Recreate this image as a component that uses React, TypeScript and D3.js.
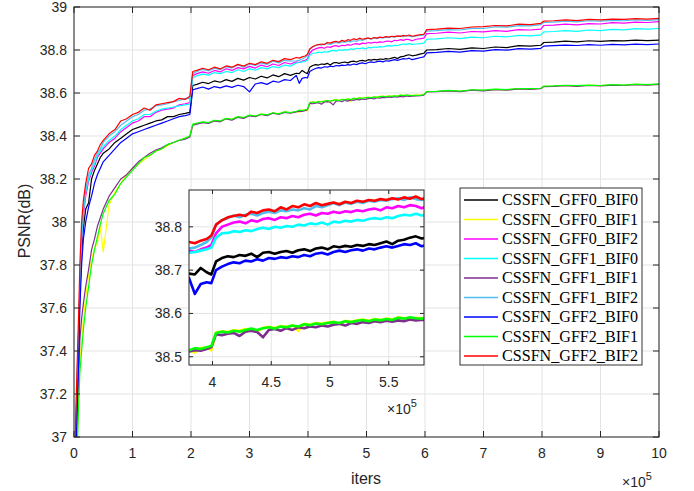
import React from "react";
import * as d3 from "d3";

// iterations (x 1e5)
const iters = [
  0.01, 0.03, 0.05, 0.08, 0.1, 0.13, 0.16, 0.2, 0.25, 0.3, 0.35, 0.4, 0.45, 0.5,
  0.6, 0.7, 0.8, 0.9, 1.0, 1.1, 1.2, 1.3, 1.4, 1.5, 1.6, 1.7, 1.8, 1.9,
  1.98, 2.03,
  2.1, 2.2, 2.3, 2.4, 2.5, 2.6, 2.7, 2.8, 2.9, 3.0, 3.1, 3.2, 3.3, 3.4, 3.5, 3.6, 3.7, 3.8,
  3.85, 3.9, 3.95, 3.99,
  4.03, 4.08, 4.13, 4.18, 4.23, 4.28, 4.33, 4.38, 4.43, 4.48, 4.53, 4.58,
  4.63, 4.68, 4.73, 4.78, 4.83, 4.88, 4.93, 4.98, 5.03, 5.08, 5.13, 5.18,
  5.23, 5.28, 5.33, 5.38, 5.43, 5.48, 5.53, 5.58, 5.63, 5.68, 5.73, 5.78,
  5.85, 5.93, 5.98, 6.03,
  6.2, 6.4, 6.6, 6.8, 7.0, 7.2, 7.4, 7.6, 7.8,
  7.98, 8.03,
  8.2, 8.4, 8.6, 8.8, 9.0, 9.2, 9.4, 9.6, 9.8, 10.0,
];

const gff0Bif0 = [
  36.6, 36.95, 37.2, 37.45, 37.65, 37.85, 37.97, 38.06, 38.09, 38.2, 38.24, 38.27, 38.3, 38.32,
  38.34, 38.37, 38.39, 38.41, 38.43, 38.44, 38.45, 38.46, 38.47, 38.475, 38.49, 38.49, 38.5, 38.505,
  38.51, 38.635,
  38.64, 38.65, 38.644, 38.656, 38.65, 38.662, 38.654, 38.668, 38.66, 38.672, 38.665, 38.678, 38.67, 38.684, 38.676, 38.69, 38.682, 38.692,
  38.69, 38.705, 38.695, 38.69,
  38.72, 38.728, 38.732, 38.73, 38.735, 38.733, 38.738, 38.73, 38.74, 38.742, 38.738, 38.742,
  38.744, 38.74, 38.746, 38.748, 38.744, 38.75, 38.752, 38.748, 38.755, 38.753, 38.756, 38.754,
  38.758, 38.756, 38.76, 38.758, 38.762, 38.766, 38.76, 38.768, 38.77, 38.775, 38.778, 38.773,
  38.776, 38.782, 38.785, 38.8,
  38.802, 38.807, 38.803, 38.81, 38.807, 38.814, 38.811, 38.82, 38.818,
  38.822, 38.835,
  38.837, 38.841, 38.838, 38.843, 38.84, 38.844, 38.842, 38.846, 38.844, 38.846,
];

const gff0Bif1 = [
  36.35, 36.7, 36.95, 37.2, 37.35, 37.45, 37.55, 37.65, 37.75, 37.82, 37.88, 37.9, 37.98, 37.86,
  38.08, 38.14, 38.18, 38.22, 38.25, 38.27, 38.29, 38.31, 38.33, 38.34, 38.355, 38.37, 38.38, 38.39,
  38.398, 38.452,
  38.458, 38.465, 38.46, 38.472, 38.468, 38.481, 38.476, 38.489, 38.484, 38.496, 38.491, 38.503, 38.497, 38.508, 38.503, 38.513, 38.508, 38.514,
  38.51, 38.52, 38.521, 38.515,
  38.556, 38.559, 38.557, 38.561, 38.56, 38.564, 38.563, 38.558, 38.567, 38.569, 38.566, 38.571,
  38.569, 38.573, 38.56, 38.576, 38.574, 38.578, 38.576, 38.579, 38.581, 38.575, 38.583, 38.581,
  38.584, 38.586, 38.583, 38.587, 38.585, 38.588, 38.586, 38.591, 38.589, 38.585, 38.59, 38.589,
  38.59, 38.591, 38.593, 38.606,
  38.607, 38.611, 38.608, 38.614, 38.612, 38.617, 38.615, 38.62, 38.619,
  38.621, 38.631,
  38.632, 38.635, 38.633, 38.636, 38.634, 38.638, 38.636, 38.64, 38.638, 38.641,
];

const gff0Bif2 = [
  36.7, 37.0, 37.2, 37.45, 37.68, 37.9, 38.03, 38.12, 38.19, 38.23, 38.26, 38.3, 38.32, 38.34,
  38.37, 38.39, 38.42, 38.44, 38.46, 38.47, 38.49, 38.49, 38.51, 38.52, 38.525, 38.53, 38.545, 38.55,
  38.555, 38.68,
  38.69, 38.698, 38.692, 38.705, 38.698, 38.713, 38.705, 38.718, 38.712, 38.724, 38.716, 38.73, 38.722, 38.735, 38.728, 38.742, 38.735, 38.745,
  38.742, 38.748, 38.752, 38.758,
  38.785, 38.8, 38.805, 38.81, 38.812, 38.808, 38.815, 38.812, 38.818, 38.82, 38.816, 38.822,
  38.82, 38.825, 38.822, 38.828, 38.83, 38.826, 38.832, 38.83, 38.835, 38.832, 38.836, 38.834,
  38.838, 38.836, 38.84, 38.842, 38.838, 38.845, 38.843, 38.848, 38.845, 38.85, 38.848, 38.843,
  38.85, 38.853, 38.855, 38.876,
  38.878, 38.883, 38.879, 38.886, 38.884, 38.89, 38.887, 38.895, 38.893,
  38.897, 38.914,
  38.916, 38.92, 38.917, 38.923, 38.921, 38.927, 38.925, 38.93, 38.928, 38.932,
];

const gff1Bif0 = [
  36.7, 37.05, 37.25, 37.5, 37.7, 37.92, 38.05, 38.14, 38.2, 38.24, 38.27, 38.31, 38.33, 38.35,
  38.38, 38.4, 38.43, 38.45, 38.47, 38.48, 38.5, 38.5, 38.515, 38.525, 38.53, 38.535, 38.54, 38.545,
  38.548, 38.67,
  38.68, 38.688, 38.683, 38.695, 38.69, 38.7, 38.695, 38.708, 38.7, 38.713, 38.706, 38.718, 38.712, 38.723, 38.718, 38.73, 38.725, 38.74,
  38.742, 38.745, 38.748, 38.752,
  38.775, 38.785, 38.786, 38.79, 38.788, 38.792, 38.79, 38.795, 38.798, 38.795, 38.8, 38.798,
  38.802, 38.8, 38.805, 38.803, 38.808, 38.806, 38.81, 38.805, 38.812, 38.81, 38.814, 38.812,
  38.816, 38.814, 38.818, 38.82, 38.818, 38.822, 38.82, 38.825, 38.828, 38.826, 38.83, 38.826,
  38.828, 38.83, 38.832, 38.85,
  38.852, 38.857, 38.853, 38.86, 38.857, 38.864, 38.861, 38.868, 38.866,
  38.87, 38.884,
  38.886, 38.89, 38.887, 38.893, 38.89, 38.896, 38.894, 38.899, 38.897, 38.9,
];

const gff1Bif1 = [
  36.4, 36.8, 37.05, 37.3, 37.45, 37.55, 37.62, 37.7, 37.78, 37.87, 37.92, 37.98, 38.02, 38.06,
  38.12, 38.16, 38.2, 38.22, 38.25, 38.28, 38.3, 38.32, 38.335, 38.345, 38.36, 38.37, 38.38, 38.385,
  38.395, 38.45,
  38.455, 38.462, 38.458, 38.47, 38.466, 38.48, 38.474, 38.487, 38.482, 38.494, 38.49, 38.5, 38.495, 38.506, 38.5, 38.51, 38.506, 38.512,
  38.515, 38.514, 38.518, 38.522,
  38.552, 38.55, 38.553, 38.555, 38.548, 38.558, 38.56, 38.557, 38.545, 38.562, 38.564, 38.56,
  38.566, 38.562, 38.568, 38.566, 38.57, 38.568, 38.572, 38.57, 38.574, 38.576, 38.572, 38.578,
  38.576, 38.58, 38.578, 38.582, 38.58, 38.583, 38.581, 38.584, 38.582, 38.586, 38.584, 38.585,
  38.586, 38.588, 38.59, 38.605,
  38.606, 38.61, 38.606, 38.613, 38.61, 38.616, 38.613, 38.619, 38.617,
  38.62, 38.63,
  38.631, 38.634, 38.631, 38.635, 38.633, 38.637, 38.635, 38.639, 38.637, 38.64,
];

const gff1Bif2 = [
  36.7, 37.0, 37.25, 37.5, 37.72, 37.95, 38.06, 38.15, 38.22, 38.25, 38.29, 38.32, 38.34, 38.37,
  38.4, 38.42, 38.45, 38.47, 38.49, 38.5, 38.52, 38.525, 38.54, 38.545, 38.55, 38.56, 38.565, 38.575,
  38.575, 38.69,
  38.7, 38.71, 38.703, 38.715, 38.708, 38.722, 38.716, 38.73, 38.72, 38.735, 38.728, 38.74, 38.733, 38.748, 38.74, 38.752, 38.748, 38.75,
  38.752, 38.758, 38.765, 38.775,
  38.805, 38.815, 38.82, 38.826, 38.822, 38.828, 38.83, 38.826, 38.832, 38.835, 38.832, 38.838,
  38.836, 38.84, 38.838, 38.843, 38.84, 38.848, 38.845, 38.85, 38.855, 38.85, 38.856, 38.853,
  38.858, 38.855, 38.86, 38.858, 38.862, 38.86, 38.864, 38.866, 38.862, 38.868, 38.864, 38.862,
  38.865, 38.868, 38.87, 38.888,
  38.89, 38.895, 38.893, 38.901, 38.9, 38.908, 38.906, 38.913, 38.912,
  38.918, 38.928,
  38.93, 38.934, 38.931, 38.936, 38.934, 38.938, 38.936, 38.94, 38.938, 38.941,
];

const gff2Bif0 = [
  36.5, 36.85, 37.1, 37.35, 37.6, 37.8, 37.92, 38.0, 38.07, 38.12, 38.18, 38.22, 38.25, 38.28,
  38.31, 38.34, 38.37, 38.39, 38.41, 38.42, 38.43, 38.44, 38.45, 38.46, 38.47, 38.48, 38.49, 38.495,
  38.5, 38.615,
  38.62, 38.628, 38.618, 38.63, 38.624, 38.633, 38.626, 38.636, 38.63, 38.605, 38.642, 38.648, 38.64, 38.655, 38.65, 38.662, 38.658, 38.682,
  38.645, 38.668, 38.672, 38.67,
  38.7, 38.708, 38.714, 38.718, 38.716, 38.722, 38.72, 38.725, 38.722, 38.728, 38.726, 38.73,
  38.728, 38.732, 38.73, 38.735, 38.732, 38.738, 38.74, 38.736, 38.742, 38.745, 38.742, 38.746,
  38.748, 38.745, 38.75, 38.748, 38.752, 38.755, 38.752, 38.756, 38.76, 38.758, 38.762, 38.755,
  38.76, 38.765, 38.768, 38.787,
  38.789, 38.794, 38.79, 38.797, 38.795, 38.802, 38.799, 38.806, 38.804,
  38.808, 38.818,
  38.82, 38.823, 38.821, 38.825, 38.822, 38.826, 38.824, 38.827, 38.825, 38.828,
];

const gff2Bif1 = [
  36.3, 36.6, 36.9, 37.15, 37.3, 37.4, 37.5, 37.6, 37.7, 37.8, 37.87, 37.93, 37.99, 38.04,
  38.1, 38.13, 38.18, 38.21, 38.24, 38.27, 38.3, 38.31, 38.33, 38.34, 38.36, 38.37, 38.38, 38.39,
  38.4, 38.455,
  38.46, 38.466, 38.462, 38.473, 38.47, 38.482, 38.478, 38.49, 38.486, 38.497, 38.493, 38.502, 38.498, 38.508, 38.503, 38.512, 38.509, 38.515,
  38.52, 38.518, 38.522, 38.525,
  38.555, 38.558, 38.556, 38.56, 38.558, 38.562, 38.565, 38.562, 38.566, 38.568, 38.565, 38.57,
  38.568, 38.572, 38.57, 38.575, 38.573, 38.577, 38.575, 38.578, 38.58, 38.578, 38.582, 38.58,
  38.583, 38.585, 38.582, 38.586, 38.584, 38.587, 38.585, 38.59, 38.588, 38.591, 38.589, 38.588,
  38.589, 38.59, 38.592, 38.607,
  38.608, 38.612, 38.609, 38.615, 38.613, 38.618, 38.616, 38.621, 38.62,
  38.622, 38.632,
  38.633, 38.636, 38.634, 38.637, 38.635, 38.639, 38.637, 38.641, 38.639, 38.642,
];

const gff2Bif2 = [
  36.8, 37.1, 37.3, 37.58, 37.8, 38.0, 38.1, 38.18, 38.25, 38.27, 38.31, 38.33, 38.36, 38.38,
  38.41, 38.43, 38.47, 38.48, 38.5, 38.51, 38.53, 38.52, 38.545, 38.55, 38.555, 38.56, 38.575, 38.57,
  38.585, 38.7,
  38.705, 38.715, 38.708, 38.72, 38.712, 38.726, 38.72, 38.733, 38.725, 38.738, 38.732, 38.745, 38.738, 38.752, 38.746, 38.76, 38.755, 38.765,
  38.762, 38.768, 38.772, 38.78,
  38.805, 38.815, 38.822, 38.825, 38.828, 38.825, 38.835, 38.832, 38.838, 38.84, 38.836, 38.845,
  38.84, 38.848, 38.845, 38.852, 38.848, 38.855, 38.85, 38.853, 38.856, 38.852, 38.858, 38.855,
  38.86, 38.858, 38.862, 38.86, 38.864, 38.862, 38.866, 38.863, 38.868, 38.865, 38.87, 38.864,
  38.868, 38.872, 38.873, 38.895,
  38.897, 38.902, 38.9, 38.907, 38.909, 38.914, 38.912, 38.92, 38.918,
  38.924, 38.934,
  38.936, 38.94, 38.937, 38.942, 38.94, 38.944, 38.942, 38.946, 38.944, 38.947,
];

const seriesNames = [
  "CSSFN_GFF0_BIF0", "CSSFN_GFF0_BIF1", "CSSFN_GFF0_BIF2",
  "CSSFN_GFF1_BIF0", "CSSFN_GFF1_BIF1", "CSSFN_GFF1_BIF2",
  "CSSFN_GFF2_BIF0", "CSSFN_GFF2_BIF1", "CSSFN_GFF2_BIF2",
];
const seriesValues = [gff0Bif0, gff0Bif1, gff0Bif2, gff1Bif0, gff1Bif1, gff1Bif2, gff2Bif0, gff2Bif1, gff2Bif2];
const seriesColors = ["#000000", "#ffff00", "#ff00ff", "#00ffff", "#7e2f8e", "#4dbeee", "#0000ff", "#00ff00", "#ff0000"];

const xTicks = [0, 1, 2, 3, 4, 5, 6, 7, 8, 9, 10];
const yTicks = [37, 37.2, 37.4, 37.6, 37.8, 38, 38.2, 38.4, 38.6, 38.8, 39];
const insetXTicks = [4, 4.5, 5, 5.5];
const insetYTicks = [38.5, 38.6, 38.7, 38.8];

const AX = "#262626";
const GRID = "#e3e3e3";
const SANS = "'Liberation Sans', Arial, Helvetica, sans-serif";
const SERIF = "'Liberation Serif', 'Times New Roman', serif";

function fmt(v: number) {
  return String(+v.toFixed(2));
}

function Axes(props: {
  x: d3.ScaleLinear<number, number>;
  y: d3.ScaleLinear<number, number>;
  xt: number[];
  yt: number[];
  id: string;
  lw: number;
  tick: number;
  fs: number;
  xLabelDy: number;
  yLabelDx: number;
}) {
  const { x, y, xt, yt, id, lw, tick, fs, xLabelDy, yLabelDx } = props;
  const [x0, x1] = x.range();
  const [y0, y1] = y.range(); // y0 bottom, y1 top
  const line = d3
    .line<[number, number]>()
    .x((d) => x(d[0]))
    .y((d) => y(d[1]));
  return (
    <g>
      <rect x={x0} y={y1} width={x1 - x0} height={y0 - y1} fill="#fff" />
      <clipPath id={id}>
        <rect x={x0} y={y1} width={x1 - x0} height={y0 - y1} />
      </clipPath>
      {xt.map((t) => (
        <line key={"gx" + t} x1={x(t)} x2={x(t)} y1={y1} y2={y0} stroke={GRID} strokeWidth={1} />
      ))}
      {yt.map((t) => (
        <line key={"gy" + t} x1={x0} x2={x1} y1={y(t)} y2={y(t)} stroke={GRID} strokeWidth={1} />
      ))}
      <g clipPath={`url(#${id})`}>
        {seriesValues.map((vals, i) => {
          const pts: [number, number][] = iters
            .map((t, j) => [t, vals[j]] as [number, number])
            .filter((p) => p[1] !== undefined);
          return (
            <path
              key={i}
              d={line(pts) || ""}
              fill="none"
              stroke={seriesColors[i]}
              strokeWidth={lw}
              strokeLinejoin="round"
            />
          );
        })}
      </g>
      {xt.map((t) => (
        <g key={"tx" + t}>
          <line x1={x(t)} x2={x(t)} y1={y0} y2={y0 - tick} stroke={AX} />
          <line x1={x(t)} x2={x(t)} y1={y1} y2={y1 + tick} stroke={AX} />
          <text x={x(t)} y={y0 + xLabelDy} textAnchor="middle" fontSize={fs} fill={AX} fontFamily={SANS}>
            {fmt(t)}
          </text>
        </g>
      ))}
      {yt.map((t) => (
        <g key={"ty" + t}>
          <line x1={x0} x2={x0 + tick} y1={y(t)} y2={y(t)} stroke={AX} />
          <line x1={x1} x2={x1 - tick} y1={y(t)} y2={y(t)} stroke={AX} />
          <text x={x0 - yLabelDx} y={y(t) + fs * 0.36} textAnchor="end" fontSize={fs} fill={AX} fontFamily={SANS}>
            {fmt(t)}
          </text>
        </g>
      ))}
      <rect x={x0} y={y1} width={x1 - x0} height={y0 - y1} fill="none" stroke={AX} strokeWidth={1} />
    </g>
  );
}

export default function App() {
  const W = 694;
  const H = 491;
  const x = d3.scaleLinear().domain([0, 10]).range([74, 659]);
  const y = d3.scaleLinear().domain([37, 39]).range([437, 7]);
  const xi = d3.scaleLinear().domain([3.8, 5.8]).range([189, 424]);
  const yi = d3.scaleLinear().domain([38.481, 38.885]).range([365, 190]);

  const legX = 460;
  const legY = 188;
  const legW = 182;
  const legH = 177;
  const rowH = 19.5;

  return (
    <svg
      width={W}
      height={H}
      style={{ position: "absolute", left: 0, top: 0, background: "#fff" }}
      xmlns="http://www.w3.org/2000/svg"
    >
      <rect width={W} height={H} fill="#fff" />
      <Axes x={x} y={y} xt={xTicks} yt={yTicks} id="clipMain" lw={1.2} tick={6} fs={14} xLabelDy={21} yLabelDx={7} />
      <text x={366} y={484} textAnchor="middle" fontSize={16} fill={AX} fontFamily={SANS}>
        iters
      </text>
      <text
        transform="translate(30,221) rotate(-90)"
        textAnchor="middle"
        fontSize={16}
        fill={AX}
        fontFamily={SANS}
      >
        PSNR(dB)
      </text>
      <text x={622} y={487} fontSize={14} fill={AX} fontFamily={SANS}>
        ×10
        <tspan dy={-7} fontSize={11}>
          5
        </tspan>
      </text>

      <Axes x={xi} y={yi} xt={insetXTicks} yt={insetYTicks} id="clipInset" lw={2.6} tick={4} fs={14} xLabelDy={22} yLabelDx={7} />
      <text x={387} y={414} fontSize={14} fill={AX} fontFamily={SANS}>
        ×10
        <tspan dy={-7} fontSize={11}>
          5
        </tspan>
      </text>

      <g>
        <rect x={legX} y={legY} width={legW} height={legH} fill="#fff" stroke="#000" strokeWidth={0.8} />
        {seriesNames.map((n, i) => {
          const cy = legY + 12 + i * rowH;
          return (
            <g key={n}>
              <line x1={legX + 4} x2={legX + 38} y1={cy} y2={cy} stroke={seriesColors[i]} strokeWidth={1.5} />
              <text
                x={legX + 42}
                y={cy + 5}
                fontSize={16}
                fontFamily={SERIF}
                fill="#000"
                textLength={136}
                lengthAdjust="spacingAndGlyphs"
              >
                {n}
              </text>
            </g>
          );
        })}
      </g>
    </svg>
  );
}
